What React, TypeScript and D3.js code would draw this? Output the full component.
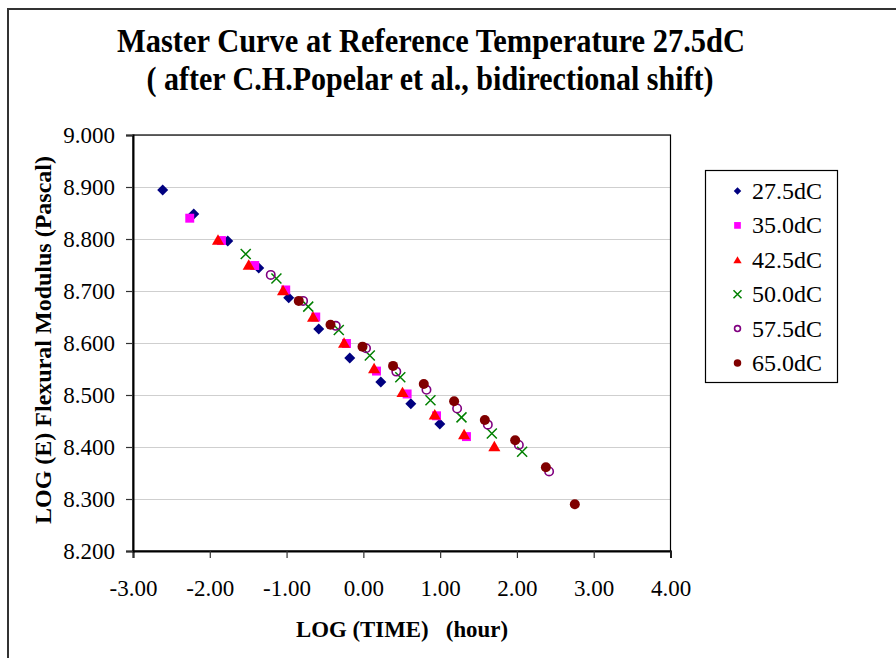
import * as d3 from "d3";
import { useEffect, useRef } from "react";

const WIDTH = 896;
const HEIGHT = 658;

// axis ticks
const xTicks = [-3, -2, -1, 0, 1, 2, 3, 4];
const yTicks = [8.2, 8.3, 8.4, 8.5, 8.6, 8.7, 8.8, 8.9, 9.0];

// LOG(time) / LOG(E) per test temperature
const time275 = [-2.613, -2.209, -1.766, -1.362, -0.972, -0.581, -0.177, 0.227, 0.618, 0.996];
const logE275 = [8.894, 8.848, 8.796, 8.744, 8.687, 8.627, 8.571, 8.525, 8.483, 8.444];

const time350 = [-2.261, -1.848, -1.415, -1.011, -0.62, -0.22, 0.171, 0.57, 0.953, 1.343];
const logE350 = [8.84, 8.797, 8.749, 8.702, 8.65, 8.599, 8.546, 8.502, 8.46, 8.42];

const time425 = [-1.893, -1.493, -1.046, -0.655, -0.251, 0.14, 0.51, 0.93, 1.312, 1.706];
const logE425 = [8.799, 8.751, 8.702, 8.651, 8.601, 8.552, 8.506, 8.463, 8.425, 8.402];

const time500 = [-1.532, -1.132, -0.718, -0.32, 0.084, 0.481, 0.874, 1.278, 1.673, 2.068];
const logE500 = [8.771, 8.724, 8.67, 8.625, 8.576, 8.534, 8.49, 8.457, 8.426, 8.391];

const time575 = [-1.206, -0.785, -0.359, 0.035, 0.429, 0.822, 1.221, 1.621, 2.025, 2.419];
const logE575 = [8.731, 8.681, 8.633, 8.59, 8.545, 8.51, 8.474, 8.443, 8.404, 8.353];

const time650 = [-0.841, -0.428, -0.011, 0.387, 0.787, 1.182, 1.582, 1.977, 2.377, 2.754];
const logE650 = [8.681, 8.635, 8.593, 8.556, 8.521, 8.488, 8.452, 8.413, 8.361, 8.29];

const seriesNames = ["27.5dC", "35.0dC", "42.5dC", "50.0dC", "57.5dC", "65.0dC"];

type Marker = "diamond" | "square" | "triangle" | "x" | "ring" | "dot";

const SERIES: { name: string; t: number[]; e: number[]; marker: Marker; color: string }[] = [
  { name: seriesNames[0], t: time275, e: logE275, marker: "diamond", color: "#000080" },
  { name: seriesNames[1], t: time350, e: logE350, marker: "square", color: "#ff00ff" },
  { name: seriesNames[2], t: time425, e: logE425, marker: "triangle", color: "#ff0000" },
  { name: seriesNames[3], t: time500, e: logE500, marker: "x", color: "#008000" },
  { name: seriesNames[4], t: time575, e: logE575, marker: "ring", color: "#800080" },
  { name: seriesNames[5], t: time650, e: logE650, marker: "dot", color: "#800000" },
];

const FONT = "'Liberation Serif', 'Times New Roman', serif";

// plot area in pixels
const plot = { left: 133, right: 670.5, top: 135, bottom: 551 };

type Sel = d3.Selection<SVGGElement, unknown, null, undefined>;

const fmtX = (d: number) => d3.format(".2f")(d).replace("\u2212", "-");

function drawMarker(g: Sel, marker: Marker, color: string, x: number, y: number, s: number) {
  // s ~ marker width in px
  if (marker === "diamond") {
    g.append("path")
      .attr("d", d3.symbol().type(d3.symbolSquare).size((s * s) / 2)())
      .attr("transform", `translate(${x},${y}) rotate(45)`)
      .attr("fill", color);
  } else if (marker === "square") {
    g.append("path")
      .attr("d", d3.symbol().type(d3.symbolSquare).size(s * s * 0.8)())
      .attr("transform", `translate(${x},${y})`)
      .attr("fill", color);
  } else if (marker === "triangle") {
    const h = s * 0.95;
    const w = s * 1.1;
    g.append("path")
      .attr("d", `M0,${-h / 2}L${w / 2},${h / 2}L${-w / 2},${h / 2}Z`)
      .attr("transform", `translate(${x},${y})`)
      .attr("fill", color);
  } else if (marker === "x") {
    const r = s / 2;
    g.append("path")
      .attr("d", `M${-r},${-r}L${r},${r}M${-r},${r}L${r},${-r}`)
      .attr("transform", `translate(${x},${y})`)
      .attr("stroke", color)
      .attr("stroke-width", 1.5)
      .attr("fill", "none");
  } else if (marker === "ring") {
    g.append("circle")
      .attr("cx", x)
      .attr("cy", y)
      .attr("r", s / 2 - 0.8)
      .attr("fill", "none")
      .attr("stroke", color)
      .attr("stroke-width", 1.6);
  } else {
    g.append("circle").attr("cx", x).attr("cy", y).attr("r", s / 2).attr("fill", color);
  }
}

function drawChart(svgEl: SVGSVGElement | null) {
  if (!svgEl) return;
  const svg = d3.select(svgEl);
  svg.selectAll("*").remove();

  const x = d3.scaleLinear().domain([-3, 4]).range([plot.left, plot.right]);
  const y = d3.scaleLinear().domain([8.2, 9.0]).range([plot.bottom, plot.top]);

  svg.append("rect").attr("width", WIDTH).attr("height", HEIGHT).attr("fill", "#fff");
  // outer chart frame (right/bottom run off the page)
  svg
    .append("rect")
    .attr("x", 8)
    .attr("y", 9)
    .attr("width", 940)
    .attr("height", 700)
    .attr("fill", "none")
    .attr("stroke", "#333")
    .attr("stroke-width", 2);

  // titles
  const title = svg.append("g").attr("font-family", FONT).attr("font-weight", "bold").attr("fill", "#000");
  title
    .append("text")
    .attr("x", 431)
    .attr("y", 52)
    .attr("text-anchor", "middle")
    .attr("font-size", 33)
    .attr("textLength", 628)
    .attr("lengthAdjust", "spacingAndGlyphs")
    .text("Master Curve at Reference Temperature 27.5dC");
  title
    .append("text")
    .attr("x", 430)
    .attr("y", 90)
    .attr("text-anchor", "middle")
    .attr("font-size", 33)
    .attr("textLength", 567)
    .attr("lengthAdjust", "spacingAndGlyphs")
    .text("( after C.H.Popelar et al., bidirectional shift)");

  // grid
  const grid = svg.append("g");
  grid
    .selectAll("line")
    .data(yTicks.filter((d) => d > 8.2))
    .join("line")
    .attr("x1", plot.left)
    .attr("x2", plot.right)
    .attr("y1", (d) => Math.round(y(d)) + 0.5)
    .attr("y2", (d) => Math.round(y(d)) + 0.5)
    .attr("stroke", "#cfcfcf")
    .attr("stroke-width", 1);

  // plot border
  svg
    .append("rect")
    .attr("x", plot.left)
    .attr("y", plot.top)
    .attr("width", plot.right - plot.left)
    .attr("height", plot.bottom - plot.top)
    .attr("fill", "none")
    .attr("stroke", "#000")
    .attr("stroke-width", 1.2);

  // axes
  const xAxis = d3
    .axisBottom(x)
    .tickValues(xTicks)
    .tickSize(7)
    .tickPadding(22)
    .tickFormat((d) => fmtX(d as number));
  const gx = svg
    .append("g")
    .attr("transform", `translate(0,${plot.bottom})`)
    .call(xAxis);
  gx.select(".domain").attr("stroke", "#000").attr("stroke-width", 2);
  gx.selectAll(".tick line").attr("stroke", "#333").attr("stroke-width", 1.2);
  gx.selectAll(".tick text").attr("font-family", FONT).attr("font-size", 23).attr("fill", "#000");

  const yAxis = d3
    .axisLeft(y)
    .tickValues(yTicks)
    .tickSize(7)
    .tickPadding(11)
    .tickFormat((d) => d3.format(".3f")(d as number));
  const gy = svg
    .append("g")
    .attr("transform", `translate(${plot.left},0)`)
    .call(yAxis);
  gy.select(".domain").attr("stroke", "#000").attr("stroke-width", 2);
  gy.selectAll(".tick line").attr("stroke", "#333").attr("stroke-width", 1.2);
  gy.selectAll(".tick text").attr("font-family", FONT).attr("font-size", 23).attr("fill", "#000");

  // axis titles
  svg
    .append("text")
    .attr("transform", `translate(51,340) rotate(-90)`)
    .attr("text-anchor", "middle")
    .attr("font-family", FONT)
    .attr("font-weight", "bold")
    .attr("font-size", 23)
    .attr("textLength", 368)
    .attr("lengthAdjust", "spacingAndGlyphs")
    .text("LOG (E) Flexural Modulus (Pascal)");
  svg
    .append("text")
    .attr("x", 402)
    .attr("y", 637)
    .attr("text-anchor", "middle")
    .attr("font-family", FONT)
    .attr("font-weight", "bold")
    .attr("font-size", 23)
    .style("white-space", "pre")
    .attr("textLength", 212)
    .attr("lengthAdjust", "spacingAndGlyphs")
    .text("LOG (TIME)   (hour)");

  // points
  const pts = svg.append("g") as Sel;
  const size: Record<Marker, number> = { diamond: 11, square: 10, triangle: 11, x: 10, ring: 10, dot: 10 };
  SERIES.forEach((s) => {
    s.t.forEach((tv, i) => {
      drawMarker(pts, s.marker, s.color, x(tv), y(s.e[i]), size[s.marker]);
    });
  });

  // legend
  const legend = svg.append("g") as Sel;
  legend
    .append("rect")
    .attr("x", 705.5)
    .attr("y", 170.5)
    .attr("width", 132)
    .attr("height", 212)
    .attr("fill", "#fff")
    .attr("stroke", "#000")
    .attr("stroke-width", 1.2);
  SERIES.forEach((s, i) => {
    const cy = 191 + i * 34.4;
    drawMarker(legend, s.marker, s.color, 737.5, cy, s.marker === "x" ? 8 : 7.5);
    legend
      .append("text")
      .attr("x", 752)
      .attr("y", cy + 8)
      .attr("font-family", FONT)
      .attr("font-size", 24)
      .attr("fill", "#000")
      .text(s.name);
  });
}

export default function App() {
  const svgRef = useRef<SVGSVGElement>(null);

  useEffect(() => {
    drawChart(svgRef.current);
  }, []);

  return (
    <svg
      ref={svgRef}
      width={WIDTH}
      height={HEIGHT}
      style={{ position: "absolute", left: 0, top: 0, display: "block" }}
    />
  );
}
